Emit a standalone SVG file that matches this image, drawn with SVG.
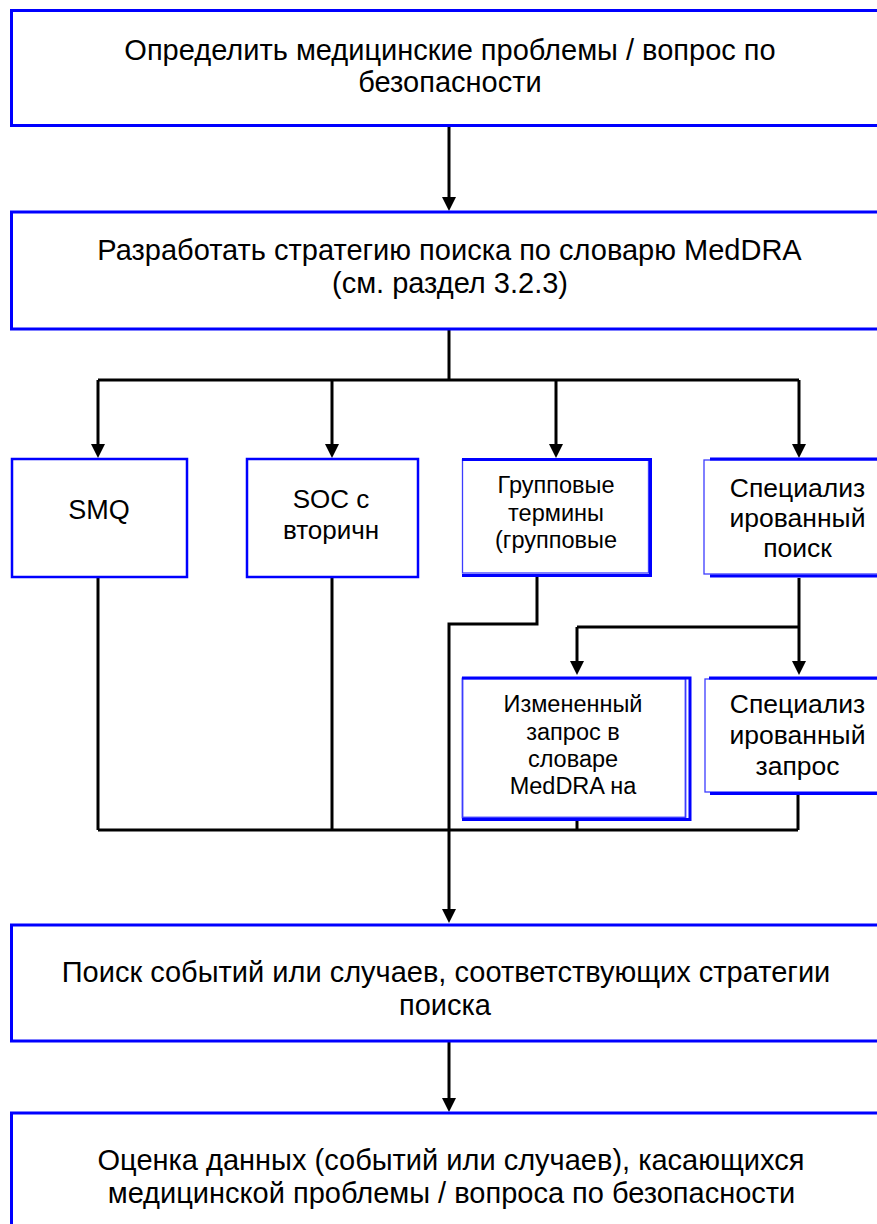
<svg xmlns="http://www.w3.org/2000/svg" width="877" height="1224" viewBox="0 0 877 1224">
  <style>
    .bg { fill: #ffffff; }
    .box { fill: #ffffff; stroke: #0000ff; stroke-width: 3; }
    .sbox { fill: #ffffff; stroke: #0000ff; stroke-width: 2.5; }
    .thin { fill: #ffffff; stroke: #3c3cff; stroke-width: 1.3; }
    .thick { fill: none; stroke: #0000ff; stroke-width: 3; }
    .conn { fill: none; stroke: #000000; stroke-width: 3; }
    .t { font-family: "Liberation Sans", Arial, sans-serif; fill: #000000; text-anchor: middle; }
    .big { font-size: 29px; }
    .mid { font-size: 26.5px; }
    .sm { font-size: 23.5px; }
  </style>
  <defs>
    <marker id="arr" viewBox="0 0 14 14" refX="4" refY="7" markerWidth="14" markerHeight="14" markerUnits="userSpaceOnUse" orient="auto">
      <path d="M0,0 L14,7 L0,14 z" fill="#000000"/>
    </marker>
  </defs>
  <rect class="bg" x="0" y="0" width="877" height="1224"/>

  <g id="connectors">
    <path class="conn" d="M449,127 V201" marker-end="url(#arr)"/>
    <path class="conn" d="M449,330 V380"/>
    <path class="conn" d="M98,380 H799"/>
    <path class="conn" d="M98,380 V448" marker-end="url(#arr)"/>
    <path class="conn" d="M332,380 V448" marker-end="url(#arr)"/>
    <path class="conn" d="M556,380 V448" marker-end="url(#arr)"/>
    <path class="conn" d="M799,380 V448" marker-end="url(#arr)"/>
    <path class="conn" d="M98,578 V830"/>
    <path class="conn" d="M332,578 V830"/>
    <path class="conn" d="M537,577 V624 H449 V913" marker-end="url(#arr)"/>
    <path class="conn" d="M799,578 V665" marker-end="url(#arr)"/>
    <path class="conn" d="M577,627 H799"/>
    <path class="conn" d="M577,627 V665" marker-end="url(#arr)"/>
    <path class="conn" d="M577,820 V830"/>
    <path class="conn" d="M798,794 V830"/>
    <path class="conn" d="M98,830 H798"/>
    <path class="conn" d="M449,1042 V1102" marker-end="url(#arr)"/>
  </g>

  <g id="node-define">
    <rect class="box" x="11.5" y="10.5" width="880" height="115"/>
    <text class="t big" x="450" y="59.5">Определить медицинские проблемы / вопрос по</text>
    <text class="t big" x="450" y="92">безопасности</text>
  </g>

  <g id="node-strategy">
    <rect class="box" x="11.5" y="212" width="880" height="117"/>
    <text class="t big" x="449.5" y="260">Разработать стратегию поиска по словарю MedDRA</text>
    <text class="t big" x="450" y="293">(см. раздел 3.2.3)</text>
  </g>

  <g id="node-smq">
    <rect class="sbox" x="12" y="459" width="175" height="118"/>
    <text class="t" style="font-size:27px" x="99" y="519">SMQ</text>
  </g>

  <g id="node-soc">
    <rect class="sbox" x="247" y="459" width="171" height="118"/>
    <text class="t" style="font-size:26px" x="331" y="508">SOC с</text>
    <text class="t" style="font-size:26px" x="331" y="539">вторичн</text>
  </g>

  <g id="node-group">
    <rect class="thin" x="462.5" y="459.5" width="186" height="113.5"/>
    <path class="thick" d="M462,459.5 H650.5 V575.5 H462"/>
    <text class="t sm" x="556" y="493">Групповые</text>
    <text class="t sm" x="556" y="521">термины</text>
    <text class="t sm" x="556" y="548">(групповые</text>
  </g>

  <g id="node-special-search">
    <rect class="thin" x="704" y="460" width="200" height="114"/>
    <path class="thick" d="M710,459 H900 M710,576 H900"/>
    <text class="t mid" x="797.5" y="497">Специализ</text>
    <text class="t mid" x="797.5" y="527">ированный</text>
    <text class="t mid" x="797.5" y="557">поиск</text>
  </g>

  <g id="node-modified">
    <rect class="thin" style="stroke-width:1.8" x="462.5" y="678.5" width="223" height="139"/>
    <path class="thick" d="M462,678 H690 V819.5 H462"/>
    <text class="t sm" x="573" y="712">Измененный</text>
    <text class="t sm" x="573" y="739.5">запрос в</text>
    <text class="t sm" x="573" y="767">словаре</text>
    <text class="t sm" x="573" y="794">MedDRA на</text>
  </g>

  <g id="node-special-query">
    <rect class="thin" x="705" y="679" width="200" height="113"/>
    <path class="thick" d="M709,678 H900 M710,793.5 H900"/>
    <text class="t mid" x="797.5" y="713">Специализ</text>
    <text class="t mid" x="797.5" y="744">ированный</text>
    <text class="t mid" x="797.5" y="775">запрос</text>
  </g>

  <g id="node-search">
    <rect class="box" x="11.5" y="925" width="880" height="116"/>
    <text class="t big" x="446" y="982">Поиск событий или случаев, соответствующих стратегии</text>
    <text class="t big" x="445" y="1015">поиска</text>
  </g>

  <g id="node-evaluate">
    <rect class="box" x="11.5" y="1113" width="880" height="200"/>
    <text class="t big" x="451" y="1170">Оценка данных (событий или случаев), касающихся</text>
    <text class="t big" x="451.5" y="1203">медицинской проблемы / вопроса по безопасности</text>
  </g>
</svg>
